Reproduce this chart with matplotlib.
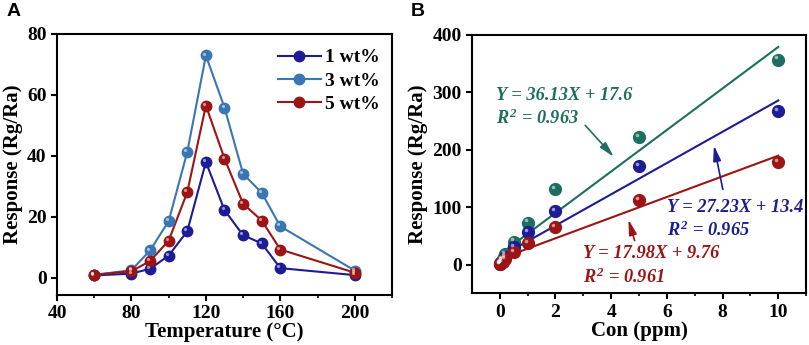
import numpy as np
import matplotlib.pyplot as plt
from matplotlib.transforms import offset_copy

plt.rcParams['font.family'] = 'Liberation Serif'
plt.rcParams['font.weight'] = 'bold'
plt.rcParams['axes.labelweight'] = 'bold'
plt.rcParams['font.size'] = 13
plt.rcParams['mathtext.fontset'] = 'custom'
plt.rcParams['mathtext.it'] = 'Liberation Serif:italic:bold'
plt.rcParams['mathtext.rm'] = 'Liberation Serif:italic:bold'
plt.rcParams['mathtext.bf'] = 'Liberation Serif:italic:bold'

# panel A data
temp = [60, 80, 90, 100, 110, 120, 130, 140, 150, 160, 200]
resp_1wt = [0.8, 1.4, 3.0, 7.3, 15.3, 38.0, 22.2, 14.0, 11.3, 3.2, 0.9]
resp_3wt = [1.0, 2.5, 9.0, 18.6, 41.3, 72.9, 55.8, 34.1, 27.9, 16.9, 2.4]
resp_5wt = [1.0, 2.2, 5.5, 12.2, 28.1, 56.5, 39.1, 24.3, 18.8, 9.3, 1.7]
labels_a = ['1 wt%', '3 wt%', '5 wt%']

# panel B data
conc = [0.01, 0.05, 0.1, 0.2, 0.5, 1, 2, 5, 10]
resp_green = [2, 5, 10, 19, 40, 73, 131, 222, 357]
resp_blue = [1, 3, 7, 13, 31, 57, 93, 171, 268]
resp_red = [1, 2, 5, 9, 21, 37, 66, 112, 178]
fit_green = (36.13, 17.6)
fit_blue = (27.23, 13.4)
fit_red = (17.98, 9.76)

navy = '#1c1c96'
steel = '#3a76b4'
dred = '#9c1414'
teal = '#1d6e5f'


def sphere(ax, fig, x, y, color, size):
    ax.plot(x, y, 'o', color=color, ms=size, mec=color, zorder=3)
    tr = offset_copy(ax.transData, fig=fig, x=-size * 0.18, y=size * 0.18, units='points')
    ax.plot(x, y, 'o', color='white', alpha=0.55, ms=size * 0.3, mew=0,
            transform=tr, zorder=4)


def style(ax):
    for s in ax.spines.values():
        s.set_linewidth(1.5)
    ax.tick_params(direction='out', width=1.5, length=4, labelsize=14)


fig = plt.figure(figsize=(8.09, 3.45), dpi=100)

# ---- A ----
ax = fig.add_axes([0.0705, 0.145, 0.414, 0.757])
for ys, c, lab in zip([resp_1wt, resp_3wt, resp_5wt], [navy, steel, dred], labels_a):
    ax.plot(temp, ys, '-', color=c, lw=1.5, zorder=2)
    sphere(ax, fig, temp, ys, c, 7.5)
    ax.plot([], [], '-o', color=c, lw=1.5, ms=7.5, label=lab)
ax.set_xlim(40, 220)
ax.set_ylim(-5.6, 80)
ax.set_xticks([40, 80, 120, 160, 200])
ax.set_xticks([60, 100, 140, 180, 220], minor=True)
ax.tick_params(which='minor', direction='out', width=1.2, length=2.5)
ax.set_yticks([0, 20, 40, 60, 80])
ax.set_xlabel('Temperature (°C)', fontsize=15, labelpad=0)
ax.set_ylabel('Response (Rg/Ra)', fontsize=15, labelpad=3)
style(ax)
ax.legend(loc='upper right', frameon=False, fontsize=14, handlelength=2.2,
          handletextpad=0.2, labelspacing=0.3, bbox_to_anchor=(1.015, 1.01))

# ---- B ----
bx = fig.add_axes([0.5834, 0.15, 0.413, 0.749])
for ys, fit, c in zip([resp_green, resp_blue, resp_red],
                      [fit_green, fit_blue, fit_red], [teal, navy, dred]):
    xx = np.array([0, 10])
    bx.plot(xx, fit[0] * xx + fit[1], '-', color=c, lw=1.5, zorder=2)
    sphere(bx, fig, conc, ys, c, 8.5)
bx.set_xlim(-1, 11)
bx.set_ylim(-50, 400)
bx.set_xticks([0, 2, 4, 6, 8, 10])
bx.set_xticks([1, 3, 5, 7, 9, 11], minor=True)
bx.tick_params(which='minor', direction='out', width=1.2, length=2.5)
bx.set_yticks([0, 100, 200, 300, 400])
bx.set_xlabel('Con (ppm)', fontsize=15, labelpad=0)
bx.set_ylabel('Response (Rg/Ra)', fontsize=15, labelpad=3)
style(bx)

kw = dict(fontsize=13.2, fontstyle='italic', fontweight='bold', va='center')
bx.text(-0.15, 295, 'Y = 36.13X + 17.6', color=teal, **kw)
bx.text(-0.15, 254, r'$R^2$ = 0.963', color=teal, **kw)
bx.text(6.0, 100, 'Y = 27.23X + 13.4', color=navy, **kw)
bx.text(6.0, 60, r'$R^2$ = 0.965', color=navy, **kw)
bx.text(3.0, 19, 'Y = 17.98X + 9.76', color=dred, **kw)
bx.text(3.0, -23, r'$R^2$ = 0.961', color=dred, **kw)

ap = dict(arrowstyle='-|>,head_length=0.7,head_width=0.18', lw=1.2)
bx.annotate('', xy=(4.16, 184), xytext=(3.0, 246), arrowprops=dict(color=teal, **ap))
bx.annotate('', xy=(7.67, 212), xytext=(8.03, 126), arrowprops=dict(color=navy, **ap))
bx.annotate('', xy=(4.59, 83), xytext=(4.87, 37), arrowprops=dict(color=dred, **ap))

fig.text(0.008, 0.99, 'A', family='Liberation Sans', fontweight='bold', fontsize=14, va='top')
fig.text(0.508, 0.99, 'B', family='Liberation Sans', fontweight='bold', fontsize=14, va='top')

plt.savefig('out.png', dpi=100)
